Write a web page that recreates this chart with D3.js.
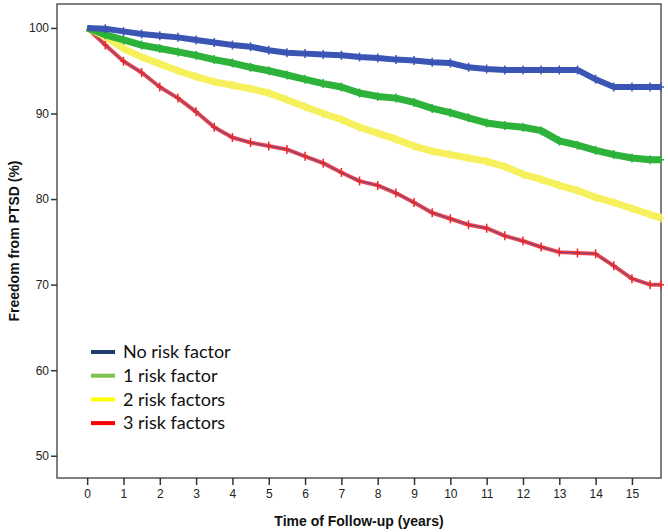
<!DOCTYPE html>
<html>
<head>
<meta charset="utf-8">
<script src="https://cdn.jsdelivr.net/npm/d3@7"></script>
<style>
  body { margin: 0; background: #fff; }
  svg { display: block; }
</style>
</head>
<body>
<svg id="chart" width="668" height="532"></svg>
<script>
// ---- Data ----
const times = [0, 0.5, 1, 1.5, 2, 2.5, 3, 3.5, 4, 4.5, 5, 5.5, 6, 6.5, 7, 7.5, 8, 8.5, 9, 9.5, 10, 10.5, 11, 11.5, 12, 12.5, 13, 13.5, 14, 14.5, 15, 15.5, 15.8];
const seriesNames = ["No risk factor", "1 risk factor", "2 risk factors", "3 risk factors"];
const noRisk = [100, 99.9, 99.6, 99.3, 99.1, 98.9, 98.6, 98.3, 98.0, 97.8, 97.4, 97.1, 97.0, 96.9, 96.8, 96.6, 96.5, 96.3, 96.2, 96.0, 95.9, 95.4, 95.2, 95.1, 95.1, 95.1, 95.1, 95.1, 94.0, 93.1, 93.1, 93.1, 93.1];
const oneRisk = [100, 99.2, 98.6, 98.0, 97.6, 97.2, 96.8, 96.3, 95.9, 95.4, 95.0, 94.5, 94.0, 93.5, 93.1, 92.4, 92.0, 91.8, 91.3, 90.6, 90.1, 89.5, 88.9, 88.6, 88.4, 88.0, 86.8, 86.3, 85.7, 85.2, 84.8, 84.6, 84.6];
const twoRisk = [100, 99.0, 97.6, 96.6, 95.8, 95.0, 94.3, 93.7, 93.3, 92.9, 92.4, 91.6, 90.8, 90.0, 89.3, 88.4, 87.7, 87.0, 86.2, 85.6, 85.2, 84.8, 84.4, 83.8, 82.9, 82.3, 81.6, 81.0, 80.2, 79.6, 78.9, 78.2, 77.8];
const threeRisk = [100, 98.0, 96.1, 94.8, 93.1, 91.8, 90.2, 88.4, 87.2, 86.6, 86.2, 85.8, 85.0, 84.2, 83.1, 82.1, 81.6, 80.7, 79.6, 78.4, 77.7, 77.0, 76.6, 75.7, 75.1, 74.4, 73.8, 73.7, 73.6, 72.2, 70.7, 70.0, 70.0];
const xTicks = [0, 1, 2, 3, 4, 5, 6, 7, 8, 9, 10, 11, 12, 13, 14, 15];
const yTicks = [50, 60, 70, 80, 90, 100];

// ---- Styles ----
const curveColors = ["#3a55b4", "#2db23a", "#f6f05c", "#e8282c"];
const bandWidths = [6, 7, 7, 4];
const legendColors = ["#1f3c6e", "#7dc24a", "#ffff00", "#ff0000"];

const svg = d3.select("#chart");
const mLeft = 57, mRight = 661, mTop = 4, mBottom = 478;

const x = d3.scaleLinear().domain([-0.83, 15.8]).range([mLeft, mRight]);
const y = d3.scaleLinear().domain([47.4, 102.8]).range([mBottom, mTop]);

// Frame
svg.append("rect")
  .attr("x", mLeft).attr("y", mTop)
  .attr("width", mRight - mLeft).attr("height", mBottom - mTop)
  .attr("fill", "none").attr("stroke", "#555").attr("stroke-width", 1.5);

// Axes
const yAxis = svg.append("g")
  .attr("transform", `translate(${mLeft},0)`)
  .call(d3.axisLeft(y).tickValues(yTicks).tickSize(6).tickPadding(2).tickFormat(d3.format("d")));
yAxis.select(".domain").remove();
yAxis.selectAll("line").attr("stroke", "#333").attr("stroke-width", 1.5);
yAxis.selectAll("text").attr("font-family", "Liberation Sans, Arial, sans-serif").attr("font-size", 12).attr("fill", "#222");

const xAxis = svg.append("g")
  .attr("transform", `translate(0,${mBottom})`)
  .call(d3.axisBottom(x).tickValues(xTicks).tickSize(7).tickPadding(4).tickFormat(d3.format("d")));
xAxis.select(".domain").remove();
xAxis.selectAll("line").attr("stroke", "#333").attr("stroke-width", 1.5);
xAxis.selectAll("text").attr("font-family", "Liberation Sans, Arial, sans-serif").attr("font-size", 12).attr("fill", "#222");

// Axis titles
svg.append("text")
  .attr("x", (mLeft + mRight) / 2).attr("y", 526)
  .attr("text-anchor", "middle")
  .attr("font-family", "Liberation Sans, Arial, sans-serif")
  .attr("font-weight", "bold").attr("font-size", 14).attr("fill", "#111")
  .text("Time of Follow-up (years)");

svg.append("text")
  .attr("transform", `translate(19,${(mTop + mBottom) / 2}) rotate(-90)`)
  .attr("text-anchor", "middle")
  .attr("font-family", "Liberation Sans, Arial, sans-serif")
  .attr("font-weight", "bold").attr("font-size", 14).attr("fill", "#111")
  .text("Freedom from PTSD (%)");

// Curves
const allSeries = [noRisk, oneRisk, twoRisk, threeRisk];
const line = d3.line().x(d => x(d[0])).y(d => y(d[1])).curve(d3.curveLinear);

const order = [3, 2, 1, 0];
order.forEach(i => {
  const pts = times.map((t, j) => [t, allSeries[i][j]]);
  const g = svg.append("g");
  g.append("path").datum(pts)
    .attr("d", line)
    .attr("fill", "none")
    .attr("stroke", curveColors[i])
    .attr("stroke-width", bandWidths[i])
    .attr("stroke-linejoin", "round")
    .attr("opacity", i === 3 ? 0.85 : 1);
  if (i === 3) {
    g.append("path").datum(pts)
      .attr("d", line)
      .attr("fill", "none")
      .attr("stroke", "#4a3a9a")
      .attr("stroke-width", 0.8);
  }
  // censor marks
  g.selectAll("path.c").data(pts.slice(1)).enter().append("path")
    .attr("class", "c")
    .attr("transform", d => `translate(${x(d[0])},${y(d[1])})`)
    .attr("d", "M-3,0H3M0,-4.5V4.5")
    .attr("stroke", curveColors[i])
    .attr("stroke-width", 1.5)
    .attr("fill", "none");
});

// Legend
const legend = svg.append("g");
seriesNames.forEach((name, i) => {
  const ly = 352 + i * 23.7;
  legend.append("line")
    .attr("x1", 91).attr("x2", 115)
    .attr("y1", ly).attr("y2", ly)
    .attr("stroke", legendColors[i]).attr("stroke-width", 4);
  legend.append("text")
    .attr("x", 123).attr("y", ly)
    .attr("dy", "0.35em")
    .attr("font-family", "Lato, sans-serif")
    .attr("font-size", 18).attr("fill", "#111")
    .text(name);
});
</script>
</body>
</html>
